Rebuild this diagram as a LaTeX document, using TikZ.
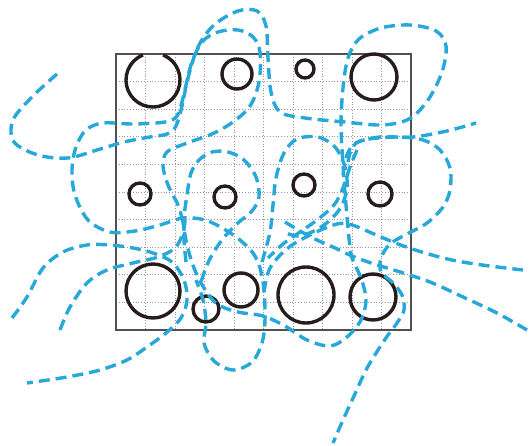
\documentclass[tikz,border=0pt]{standalone}
\begin{document}
\begin{tikzpicture}[x=1pt,y=-1pt,
  ring/.style={draw=ringcol, line width=3.4pt},
  fibre/.style={draw=fibrecol, line width=3.4pt, dash pattern=on 11pt off 6pt, smooth, tension=0.55},
  gridline/.style={draw=gridcol, line width=0.8pt, dotted},
  frameline/.style={draw=framecol, line width=1.1pt}]
\definecolor{ringcol}{RGB}{38,28,28}
\definecolor{fibrecol}{RGB}{40,168,216}
\definecolor{gridcol}{RGB}{150,150,150}
\definecolor{framecol}{RGB}{80,80,80}
\useasboundingbox (0,0) rectangle (529,446);
% grid
\foreach \i in {1,...,9}{
  \draw[gridline] ({116+29.5*\i},54) -- ({116+29.5*\i},330);
  \draw[gridline] (116,{54+27.6*\i}) -- (411,{54+27.6*\i});
}
\draw[frameline] (116,54) rectangle (411,330);
% rings
\draw[ring] (153,80) ++(292:27) arc[start angle=292, end angle=608, radius=27];
\draw[ring] (237,74) circle[radius=15];
\draw[ring] (305,69) circle[radius=9];
\draw[ring] (374,77) circle[radius=23];
\draw[ring] (140,194) circle[radius=11];
\draw[ring] (225,197) circle[radius=11];
\draw[ring] (304,185) circle[radius=11];
\draw[ring] (380,194) circle[radius=12];
\draw[ring] (153,291) circle[radius=27];
\draw[ring] (206,309) circle[radius=13];
\draw[ring] (241,290) circle[radius=17];
\draw[ring] (306,295) circle[radius=28];
\draw[ring] (373,297) circle[radius=23];
% fibres
\draw[fibre] plot coordinates {(57,74) (33,96) (13,120) (14,142) (38,155) (68,158) (97,150) (124,142) (150,137) (167,134) (176,126) (182,106) (188,78) (198,47) (214,25) (238,11) (257,11) (266,26) (268,58) (271,92) (280,112) (305,118) (345,122) (382,125) (409,119) (428,100) (442,72) (446,46) (436,31) (410,25) (381,28) (359,39) (348,58) (343,88) (341,125) (343,165) (346,205) (349,238) (352,258) (361,278) (366,300) (361,320) (347,337) (330,346) (307,340) (285,326) (263,316) (238,312) (217,304) (204,288) (194,268) (187,245) (183,222)};
\draw[fibre] plot coordinates {(183,222) (178,205) (168,185) (163,166) (167,152) (187,143) (212,134) (233,122) (250,106) (259,82) (260,52) (253,37) (238,30) (218,32) (202,42) (191,65) (183,98) (177,116) (165,122) (133,124) (103,123) (86,130) (76,147) (72,170) (75,195) (88,220) (110,232) (135,231) (160,225) (183,218) (205,220) (224,229) (240,240) (253,253) (260,268) (264,290) (265,320) (262,343) (252,362) (233,370) (214,361) (204,343) (206,323) (203,300) (196,280)};
\draw[fibre] plot coordinates {(186,262) (184,240) (184,218) (187,195) (191,173) (199,160) (212,152) (228,152) (244,160) (256,177) (259,197) (252,211) (239,222) (226,235) (215,250) (207,265) (200,285)};
\draw[fibre] plot coordinates {(262,262) (270,232) (273,205) (276,178) (284,153) (297,139) (318,137) (335,147) (345,167) (347,188) (341,207) (329,221) (314,231) (298,236) (283,232)};
\draw[fibre] plot coordinates {(357,150) (350,167) (343,188) (334,205) (317,220) (300,232) (283,244) (268,258)};
\draw[fibre] plot coordinates {(348,162) (352,148) (363,140) (397,137) (423,140) (440,150) (450,168) (450,190) (443,207) (427,223) (407,234) (390,244) (381,258) (381,272) (392,282) (402,295) (404,310) (397,323) (388,335) (378,350) (366,370) (354,396) (343,420) (333,443)};
\draw[fibre] plot coordinates {(343,175) (347,155) (356,143) (380,137) (413,137) (447,131) (476,123)};
\draw[fibre] plot coordinates {(264,292) (270,268) (288,248) (312,234) (337,224) (352,225) (374,234) (398,244) (425,253) (452,260) (482,265) (523,270)};
\draw[fibre] plot coordinates {(285,222) (300,231) (317,240) (333,247) (352,256) (374,264) (397,271) (430,282) (463,297) (497,313) (527,330)};
\draw[fibre] plot coordinates {(12,318) (27,297) (43,268) (63,252) (87,245) (110,245) (133,248) (153,253) (172,262) (184,280) (187,300) (181,318) (166,333) (147,347) (127,360) (100,370) (67,377) (27,383)};
\draw[fibre] plot coordinates {(60,330) (70,307) (87,283) (107,270) (133,263) (158,257) (175,248) (183,233) (185,220)};
\end{tikzpicture}
\end{document}
